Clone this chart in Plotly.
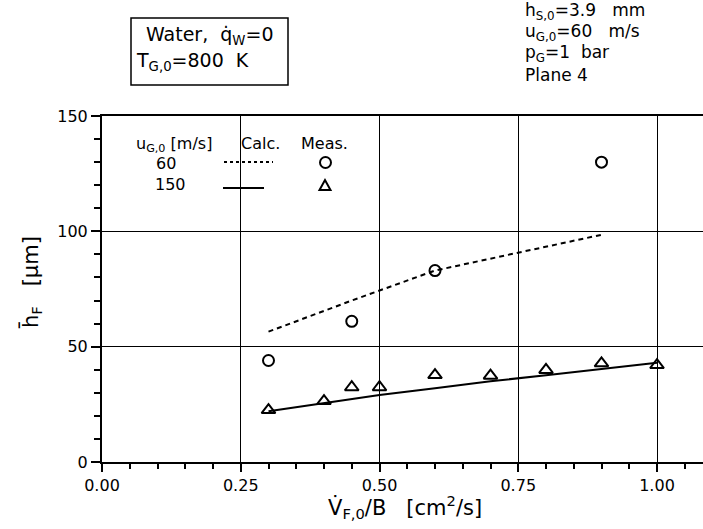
import plotly.graph_objects as go

# ---- data ----
x_meas_60 = [0.30, 0.45, 0.60, 0.90]
h_meas_60 = [44, 61, 83, 130]
x_meas_150 = [0.30, 0.40, 0.45, 0.50, 0.60, 0.70, 0.80, 0.90, 1.00]
h_meas_150 = [22.5, 26.4, 32.4, 32.4, 37.7, 37.4, 39.9, 42.8, 42.0]
x_calc_60 = [0.30, 0.45, 0.60, 0.90]
h_calc_60 = [56.5, 70, 83, 98.5]
x_calc_150 = [0.30, 0.40, 0.50, 0.60, 0.70, 0.80, 0.90, 1.00]
h_calc_150 = [22, 25.6, 29, 32, 35, 37.6, 40.3, 43]
x_ticks = [0.00, 0.25, 0.50, 0.75, 1.00]
y_ticks = [0, 50, 100, 150]

FONT = "DejaVu Sans"
W, H = 703, 529
L, R, T, B = 102, 0, 116, 67
PW = W - L - R
PH = H - T - B


def px(x):
    return (x - L) / PW


def py(y):
    return (H - B - y) / PH


fig = go.Figure()
fig.add_trace(go.Scatter(x=x_calc_60, y=h_calc_60, mode="lines",
                         line=dict(color="black", width=2, dash="5px,4px"),
                         showlegend=False))
fig.add_trace(go.Scatter(x=x_calc_150, y=h_calc_150, mode="lines",
                         line=dict(color="black", width=2),
                         showlegend=False))
fig.add_trace(go.Scatter(x=x_meas_60, y=h_meas_60, mode="markers",
                         marker=dict(symbol="circle-open", size=11, color="black",
                                     line=dict(width=2, color="black")),
                         showlegend=False))
fig.add_trace(go.Scatter(x=x_meas_150, y=h_meas_150, mode="markers",
                         marker=dict(symbol="triangle-up-open", size=12, color="black",
                                     line=dict(width=2, color="black")),
                         showlegend=False))

ann = []
shapes = []


def text(x, y, s, size, xanchor="left", angle=0):
    ann.append(dict(x=px(x), y=py(y), xref="paper", yref="paper", text=s,
                    showarrow=False, xanchor=xanchor, yanchor="middle",
                    textangle=angle, font=dict(family=FONT, size=size, color="black")))


NB = "\u00a0"
# top-left box
shapes.append(dict(type="rect", xref="paper", yref="paper",
                   x0=px(131), x1=px(288), y0=py(18), y1=py(85),
                   line=dict(color="black", width=1.5)))
text(210, 36, "Water," + NB * 2 + "q\u0307<sub>W</sub>=0", 19, "center")
text(134, 61, "T<sub>G,0</sub>=800" + NB * 2 + "K", 19)

# top-right block
text(523, 12, "h<sub>S,0</sub>=3.9" + NB * 3 + "mm", 17)
text(523, 33, "u<sub>G,0</sub>=60" + NB * 3 + "m/s", 17)
text(523, 54, "p<sub>G</sub>=1" + NB * 2 + "bar", 17)
text(523, 75, "Plane" + NB + "4", 17)

# legend block
text(134, 144, "u<sub>G,0</sub>" + NB + "[m/s]", 16)
text(239, 143, "Calc.", 16)
text(299, 143, "Meas.", 16)
text(166, 163, "60", 16, "center")
text(170, 184, "150", 16, "center")
shapes.append(dict(type="line", xref="paper", yref="paper",
                   x0=px(224), x1=px(273), y0=py(162), y1=py(162),
                   line=dict(color="black", width=2, dash="dot")))
shapes.append(dict(type="line", xref="paper", yref="paper",
                   x0=px(223), x1=px(264), y0=py(188), y1=py(188),
                   line=dict(color="black", width=2)))
shapes.append(dict(type="circle", xref="paper", yref="paper",
                   x0=px(320), x1=px(331), y0=py(157), y1=py(168),
                   line=dict(color="black", width=2)))
shapes.append(dict(type="path", xref="paper", yref="paper",
                   path="M %f,%f L %f,%f L %f,%f Z" % (px(319.5), py(190), px(330.5), py(190),
                                                      px(325), py(180)),
                   line=dict(color="black", width=2)))

# axis titles
text(405, 507, "V\u0307<sub>F,0</sub>/B" + NB * 3 + "[cm<sup>2</sup>/s]", 21, "center")
ann.append(dict(x=px(31), y=py(283), xref="paper", yref="paper",
                text="h\u0304<sub>F</sub>" + NB * 3 + "[\u03bcm]", showarrow=False,
                xanchor="center", yanchor="middle", textangle=-90,
                font=dict(family=FONT, size=21, color="black")))

fig.update_layout(
    width=W, height=H,
    margin=dict(l=L, r=R, t=T, b=B, pad=0),
    paper_bgcolor="white", plot_bgcolor="white",
    font=dict(family=FONT, size=16, color="black"),
    annotations=ann, shapes=shapes, showlegend=False,
)
fig.update_xaxes(range=[0, PW / 555.0], tickvals=x_ticks,
                 ticktext=["%.2f" % v for v in x_ticks],
                 showline=True, linecolor="black", linewidth=2, mirror=True,
                 ticks="outside", ticklen=8, tickwidth=2, tickcolor="black",
                 showgrid=True, gridcolor="black", gridwidth=1.3,
                 zeroline=False,
                 minor=dict(ticks="outside", ticklen=5, tickwidth=2, tickcolor="black",
                            dtick=0.05, tick0=0, showgrid=False),
                 tickfont=dict(family=FONT, size=16, color="black"))
fig.update_yaxes(range=[0, 150], tickvals=y_ticks,
                 showline=True, linecolor="black", linewidth=2,
                 ticks="outside", ticklen=9, tickwidth=2, tickcolor="black",
                 showgrid=True, gridcolor="black", gridwidth=1.3,
                 zeroline=False,
                 minor=dict(ticks="outside", ticklen=6, tickwidth=2, tickcolor="black",
                            dtick=10, tick0=0, showgrid=False),
                 tickfont=dict(family=FONT, size=16, color="black"))

fig.write_html("out.html",
               config={"displayModeBar": False},
               post_script="document.body.style.margin='0';"
                           "document.body.style.overflow='hidden';")
